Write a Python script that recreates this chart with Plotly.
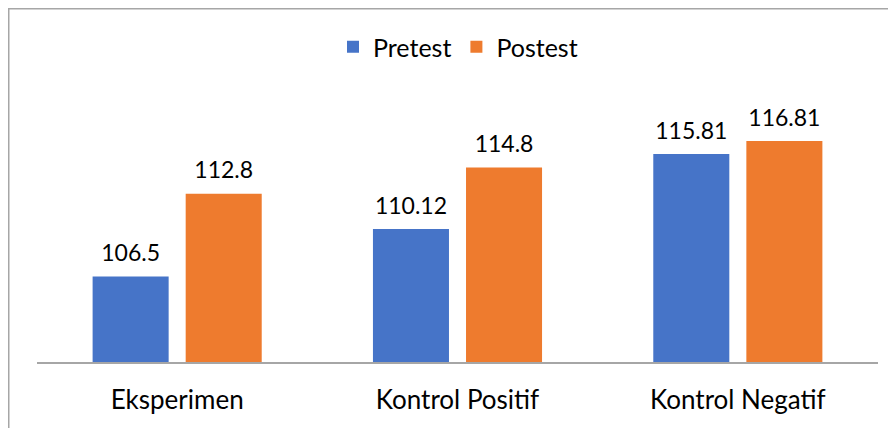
import plotly.graph_objects as go

categories = ["Eksperimen", "Kontrol Positif", "Kontrol Negatif"]
pretest = [106.5, 110.12, 115.81]
postest = [112.8, 114.8, 116.81]
pretest_labels = ["106.5", "110.12", "115.81"]
postest_labels = ["112.8", "114.8", "116.81"]

FONT = "Lato"
OFF = 8  # page body margin
label_tpl = '<span style="font-size:23px">%{text}</span><br> '

fig = go.Figure()
fig.add_trace(go.Bar(
    name="Pretest", x=categories, y=pretest, text=pretest_labels,
    texttemplate=label_tpl, textposition="outside", cliponaxis=False,
    marker=dict(color="#4674c8", line=dict(width=0)),
    textfont=dict(color="#000000", size=8, family=FONT),
))
fig.add_trace(go.Bar(
    name="Postest", x=categories, y=postest, text=postest_labels,
    texttemplate=label_tpl, textposition="outside", cliponaxis=False,
    marker=dict(color="#ee7b2e", line=dict(width=0)),
    textfont=dict(color="#000000", size=8, family=FONT),
))

W, H = 896, 428
L, T = 37 - OFF, 99 - OFF
R, B = W - (878 - OFF), H - (362 - OFF)
PW, PH = W - L - R, H - T - B

fig.update_layout(
    width=W, height=H,
    margin=dict(l=L, r=R, t=T, b=B, autoexpand=False),
    paper_bgcolor="white", plot_bgcolor="white",
    barmode="group", bargap=0.336, bargroupgap=0.183,
    font=dict(family=FONT, size=26, color="#000000"),
    showlegend=True,
    uniformtext=dict(mode=False),
    legend=dict(orientation="h", x=(458 - OFF) / W, xanchor="center", xref="container",
                y=1 - (47 - OFF) / H, yref="container", yanchor="middle",
                font=dict(size=25, family=FONT), traceorder="normal"),
    xaxis=dict(showline=True, linecolor="#a6a6a6", linewidth=2, ticks="",
               tickfont=dict(size=26, family=FONT, color="#000000"), ticklabelstandoff=14),
    yaxis=dict(range=[100, 120], visible=False, showgrid=False),
    shapes=[dict(type="rect", xref="paper", yref="paper",
                 x0=(0.75 - L) / PW, x1=1.2, y0=-0.5, y1=(H - B - 0.75) / PH,
                 line=dict(color="#a6a6a6", width=1.5), fillcolor="rgba(0,0,0,0)", layer="below")],
)
fig.write_html("out.html")
